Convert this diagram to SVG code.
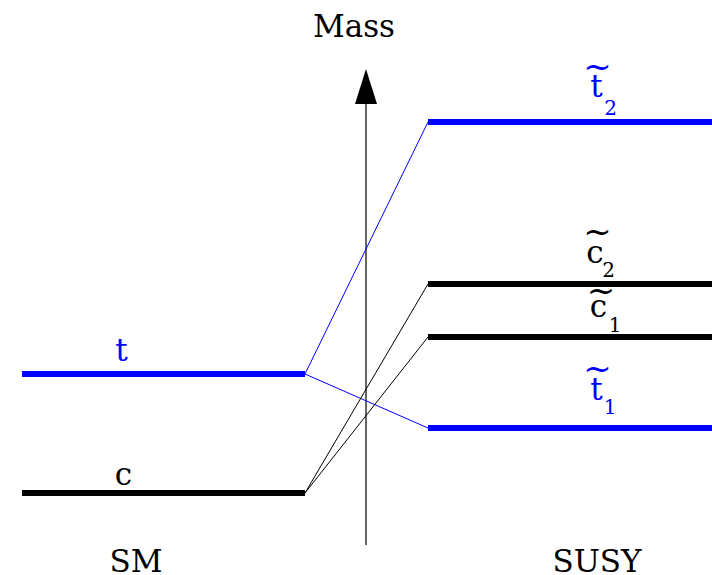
<svg xmlns="http://www.w3.org/2000/svg" width="712" height="575" viewBox="0 0 712 575">
<defs>
<style>
text{font-family:"DejaVu Serif",serif;text-anchor:middle;}
.lbl{font-size:31px;fill:#000}
.blue{fill:#0000ff}
.sub{font-size:20px}
.til{font-size:34px}
.lev{stroke-width:6;fill:none}
.bl{stroke:#0000ff}
.bk{stroke:#000}
.conn{stroke-width:1;fill:none}
</style>
</defs>
<rect width="712" height="575" fill="#fff"/>
<g id="axis">
<line x1="366" y1="545" x2="366" y2="100" stroke="#000" stroke-width="1.2"/>
<path d="M355,104 L366,69 L377,104 Z" fill="#000"/>
<text class="lbl" x="354" y="37">Mass</text>
</g>
<g id="connectors">
<line class="conn bl" x1="305" y1="374" x2="428" y2="122"/>
<line class="conn bl" x1="305" y1="374" x2="428" y2="428"/>
<line class="conn bk" x1="305" y1="493" x2="428" y2="284"/>
<line class="conn bk" x1="305" y1="493" x2="428" y2="337"/>
</g>
<g id="t">
<line class="lev bl" x1="22" y1="374" x2="305" y2="374"/>
<text class="lbl blue" x="121.5" y="361">t</text>
</g>
<g id="c">
<line class="lev bk" x1="22" y1="493" x2="305" y2="493"/>
<text class="lbl" x="123.5" y="485">c</text>
</g>
<g id="t2">
<line class="lev bl" x1="428" y1="122" x2="712" y2="122"/>
<text class="lbl til blue" x="597.5" y="77.5">~</text>
<text class="lbl blue" x="596.5" y="97">t</text>
<text class="lbl blue sub" x="610.5" y="115">2</text>
</g>
<g id="c2">
<line class="lev bk" x1="428" y1="284" x2="712" y2="284"/>
<text class="lbl til" x="597.5" y="242.5">~</text>
<text class="lbl" x="595" y="263">c</text>
<text class="lbl sub" x="608.5" y="277">2</text>
</g>
<g id="c1">
<line class="lev bk" x1="428" y1="337" x2="712" y2="337"/>
<text class="lbl til" x="601" y="302">~</text>
<text class="lbl" x="598.5" y="317">c</text>
<text class="lbl sub" x="615" y="332">1</text>
</g>
<g id="t1">
<line class="lev bl" x1="428" y1="428" x2="712" y2="428"/>
<text class="lbl til blue" x="597.5" y="379.5">~</text>
<text class="lbl blue" x="596.5" y="400">t</text>
<text class="lbl blue sub" x="610" y="414">1</text>
</g>
<g id="labels">
<text class="lbl" x="136" y="572">SM</text>
<text class="lbl" x="597" y="572">SUSY</text>
</g>
</svg>
